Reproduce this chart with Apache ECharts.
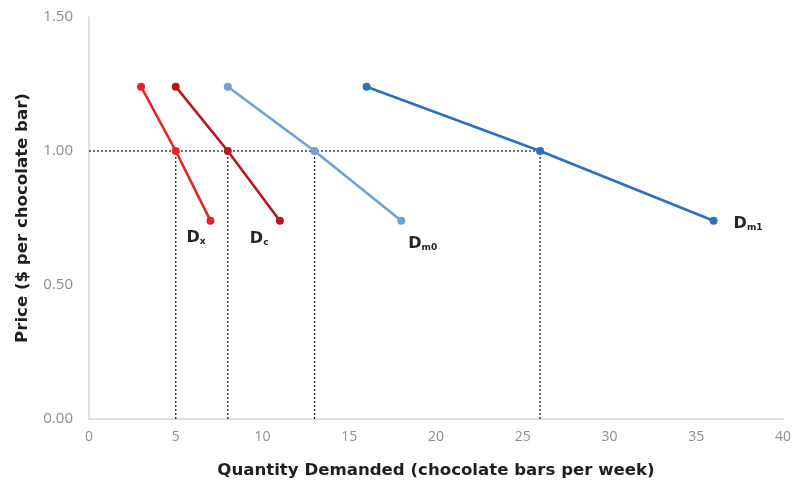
<!DOCTYPE html>
<html><head><meta charset="utf-8">
<script src="https://cdn.jsdelivr.net/npm/echarts@6/dist/echarts.min.js"></script>
<style>html,body{margin:0;padding:0;background:#fff}#c{width:794px;height:486px}</style>
</head><body><div id="c"></div>
<script>
// Data
const prices = [1.24, 1.00, 0.74];
const qtyDx  = [3, 5, 7];
const qtyDc  = [5, 8, 11];
const qtyDm0 = [8, 13, 18];
const qtyDm1 = [16, 26, 36];
const seriesNames = ['Dx', 'Dc', 'Dm0', 'Dm1'];
const subscripts = ['x', 'c', 'm0', 'm1'];
const refPrice = 1.00;
const refQuantities = [5, 8, 13, 26];
const xTicks = [0, 5, 10, 15, 20, 25, 30, 35, 40];
const yTicks = [0.00, 0.50, 1.00, 1.50];

const colors = ['#e8222a', '#b8161f', '#6fa1d3', '#2a70bf'];
const labelOffsets = [[-24, 15], [-30, 16], [7, 21], [20, 1]];
const qtys = [qtyDx, qtyDc, qtyDm0, qtyDm1];
const TITLE_FONT = 'DejaVu Sans';
const TICK_FONT = 'Open Sans';

const chart = echarts.init(document.getElementById('c'));
const series = [];

// dotted reference lines
const dotStyle = { color: '#222', width: 1.3, type: [2, 2] };
series.push({
  type: 'line', data: [[0, refPrice], [refQuantities[refQuantities.length - 1], refPrice]],
  symbol: 'none', lineStyle: dotStyle, z: 1, silent: true
});
refQuantities.forEach(q => {
  series.push({
    type: 'line', data: [[q, 0], [q, refPrice]],
    symbol: 'none', lineStyle: dotStyle, z: 1, silent: true
  });
});

qtys.forEach((qs, i) => {
  const data = qs.map((q, j) => [q, prices[j]]);
  series.push({
    name: seriesNames[i], type: 'line', z: 3,
    data: data.map((d, j) => j === data.length - 1 ? {
      value: d,
      label: {
        show: true, position: 'inside', offset: labelOffsets[i], align: 'left',
        formatter: '{d|D}{s|' + subscripts[i] + '}',
        rich: {
          d: { fontFamily: TITLE_FONT, fontWeight: 'bold', fontSize: 16, color: '#262626', verticalAlign: 'bottom', lineHeight: 20 },
          s: { fontFamily: TITLE_FONT, fontWeight: 'bold', fontSize: 9, color: '#262626', verticalAlign: 'bottom', lineHeight: 20, padding: [8, 0, 0, 0] }
        }
      }
    } : { value: d }),
    symbol: 'circle', symbolSize: 8,
    itemStyle: { color: colors[i] },
    lineStyle: { color: colors[i], width: 2.6 }
  });
});

chart.setOption({
  animation: false,
  grid: { left: 89, right: 8, top: 17, bottom: 67, containLabel: false },
  xAxis: {
    type: 'value', min: xTicks[0], max: xTicks[xTicks.length - 1], interval: 5,
    name: 'Quantity Demanded (chocolate bars per week)', nameLocation: 'middle', nameGap: 43,
    nameTextStyle: { fontFamily: TITLE_FONT, fontWeight: 'bold', fontSize: 16.6, color: '#1f1f1f' },
    axisLine: { lineStyle: { color: '#d4d4d4', width: 1.5 } },
    axisTick: { show: false }, splitLine: { show: false },
    axisLabel: { fontFamily: TICK_FONT, fontSize: 14, color: '#8f8f8f', margin: 11 }
  },
  yAxis: {
    type: 'value', min: yTicks[0], max: yTicks[yTicks.length - 1], interval: 0.5,
    name: 'Price ($ per chocolate bar)', nameLocation: 'middle', nameGap: 58,
    nameTextStyle: { fontFamily: TITLE_FONT, fontWeight: 'bold', fontSize: 16.6, color: '#1f1f1f' },
    axisLine: { show: true, lineStyle: { color: '#d4d4d4', width: 1.5 } },
    axisTick: { show: false }, splitLine: { show: false },
    axisLabel: { fontFamily: TICK_FONT, fontSize: 15, color: '#8f8f8f', margin: 16, formatter: v => v.toFixed(2) }
  },
  series: series
});
</script></body></html>
